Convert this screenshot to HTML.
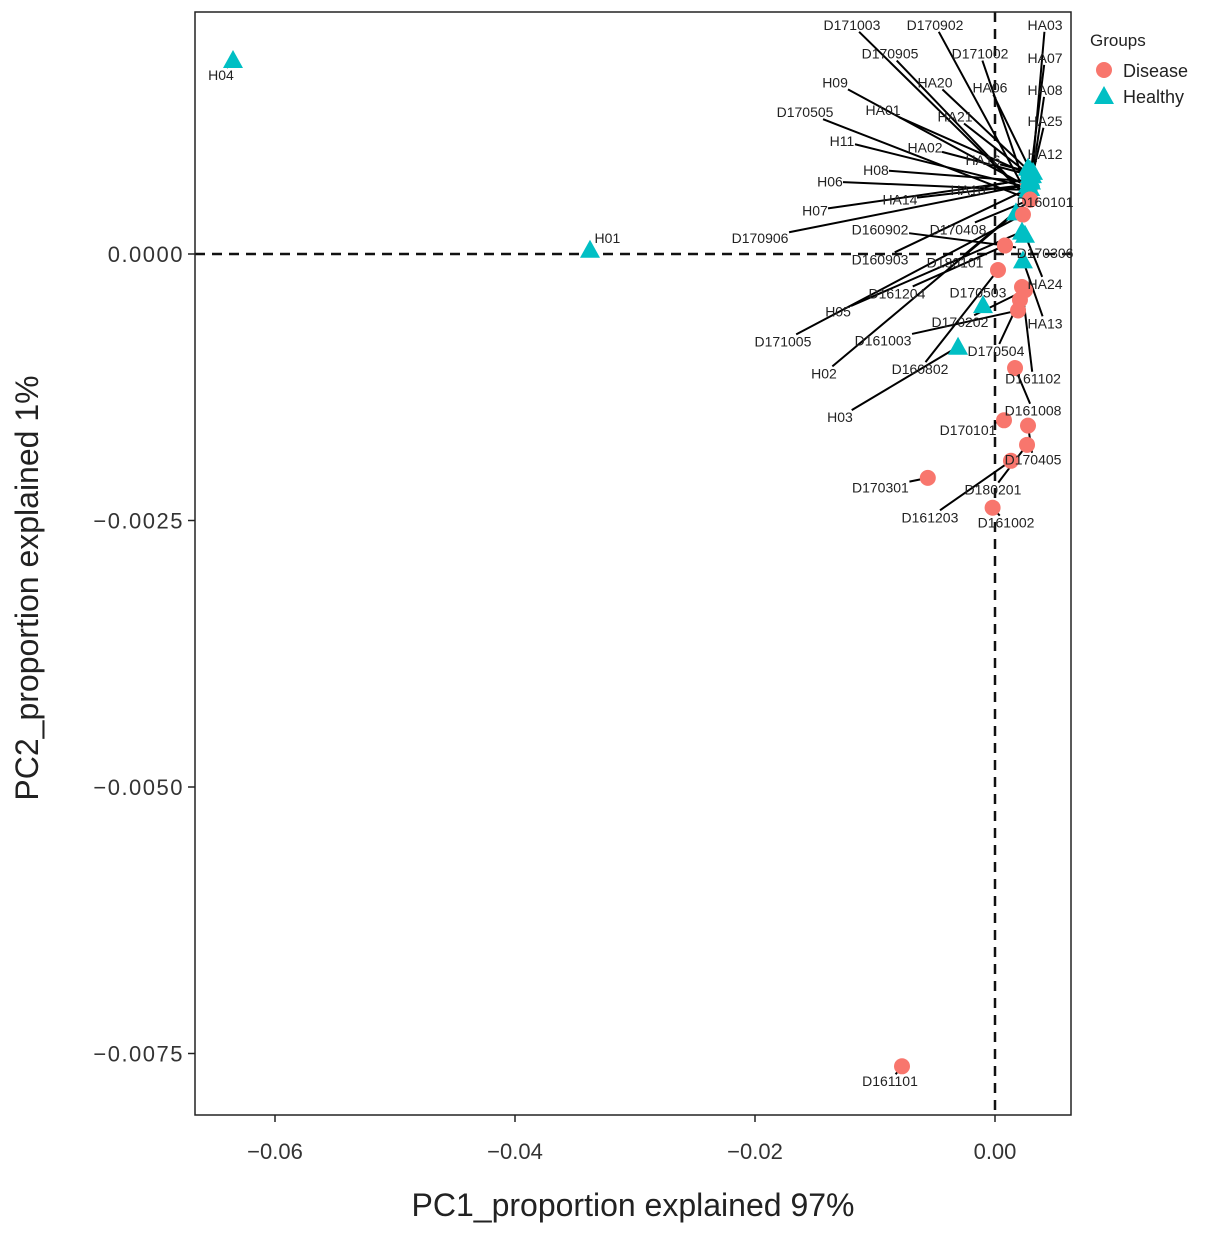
<!DOCTYPE html>
<html><head><meta charset="utf-8"><style>
body{margin:0;background:#fff;}
svg text{font-family:"Liberation Sans",Arial,sans-serif;}
</style></head><body>
<svg id="chart" width="1205" height="1235" viewBox="0 0 1205 1235" xmlns="http://www.w3.org/2000/svg">
<rect x="0" y="0" width="1205" height="1235" fill="#fff"/>
<g id="grid"></g>
<g id="segs"></g>
<g id="marks"></g>
<g id="labels"></g>
<rect x="195" y="12" width="876" height="1103" fill="none" stroke="#222" stroke-width="1.5"/>
<g id="axes"></g>
<text x="633" y="1216" font-size="32" text-anchor="middle" fill="#222">PC1_proportion explained 97%</text>
<text transform="translate(38,588) rotate(-90)" font-size="32" text-anchor="middle" fill="#222">PC2_proportion explained 1%</text>
<g>
<text x="1090" y="46" font-size="17" fill="#222">Groups</text>
<circle cx="1104" cy="70" r="8" fill="#F8766D"/>
<text x="1123" y="77" font-size="18" fill="#222">Disease</text>
<polygon points="1104,86 1114,104 1094,104" fill="#00BFC4"/>
<text x="1123" y="103" font-size="18" fill="#222">Healthy</text>
</g>
</svg>
<script>
const names=["H04","H01","D161101","D170301","D161002","D161203","D180201","D170405","D170101","D161008",
"HA03","HA07","HA08","HA25","HA12","D160101","D170306","HA24","HA13","D161102",
"D170504","D161003","H02","D160802","H03","D170503","D170202","D171005","H05","D161204",
"D180101","D160903","D160902","D170408","D170906","H07","HA14","H06","HA10","H08",
"HA02","HA16","H11","D170505","HA01","HA21","H09","HA20","HA06","D170905",
"D171002","D171003","D170902"];
const groups=["H","H","D","D","D","D","D","D","D","D",
"H","H","H","H","H","D","D","H","H","D",
"D","D","H","D","H","H","D","D","H","D",
"D","D","D","D","D","H","H","H","H","H",
"H","H","H","D","H","H","H","H","H","D",
"D","D","D"];
const pc1=[-0.0635,-0.03375,-0.00775,-0.0056,-0.0002,0.00133,0.00267,0.00275,0.00075,0.00167,
0.00308,0.00292,0.00317,0.003,0.00275,0.00292,0.00083,0.0025,0.00233,0.00225,
0.00208,0.00192,0.00175,0.00025,-0.00308,-0.001,0.0025,0.00233,0.00225,0.00083,
0.00292,0.00292,0.00083,0.00292,0.00275,0.00292,0.00275,0.00275,0.00292,0.00292,
0.00292,0.00292,0.00292,0.00292,0.00292,0.00292,0.00292,0.00292,0.00292,0.00292,
0.00292,0.00292,0.00292];
const pc2=[0.00182,0.00004,-0.00762,-0.0021,-0.00238,-0.00194,-0.00179,-0.00161,-0.00156,-0.00107,
0.00074,0.00071,0.00077,0.00068,0.00081,0.00051,0.00008,0.00018,-0.00006,-0.00031,
-0.00043,-0.00053,0.00039,-0.00015,-0.00087,-0.00048,-0.00034,0.00037,0.00021,0.00008,
0.00051,0.00062,0.00008,0.00051,0.00065,0.0007,0.00065,0.0006,0.00071,0.00068,
0.00074,0.00077,0.00062,0.00051,0.00074,0.00074,0.00062,0.00077,0.00079,0.00051,
0.00051,0.00051,0.00051];
const labX=[-0.0645,-0.0323,-0.00875,-0.00955,0.00092,-0.00542,-0.00017,0.00317,-0.00225,0.00317,
0.00417,0.00417,0.00417,0.00417,0.00417,0.00417,0.00417,0.00417,0.00417,0.00317,
0.00008,-0.00933,-0.01425,-0.00625,-0.01292,-0.00142,-0.00292,-0.01767,-0.01308,-0.00817,
-0.00333,-0.00958,-0.00958,-0.00308,-0.01958,-0.015,-0.00792,-0.01375,-0.00225,-0.00992,
-0.00583,-0.001,-0.01275,-0.01583,-0.00933,-0.00333,-0.01333,-0.005,-0.00042,-0.00875,
-0.00125,-0.01192,-0.005];
const labY=[0.00168,0.00015,-0.00776,-0.00219,-0.00252,-0.00247,-0.00221,-0.00193,-0.00165,-0.00147,
0.00215,0.00184,0.00154,0.00125,0.00094,0.00049,0.00001,-0.00028,-0.00065,-0.00117,
-0.00091,-0.00081,-0.00112,-0.00108,-0.00153,-0.00036,-0.00064,-0.00082,-0.00054,-0.00037,
-0.00008,-0.00005,0.00023,0.00023,0.00015,0.00041,0.00051,0.00068,0.0006,0.00079,
0.001,0.00088,0.00106,0.00133,0.00135,0.00129,0.00161,0.00161,0.00156,0.00188,
0.00188,0.00215,0.00215];
const xTicks=[-0.06,-0.04,-0.02,0.00];
const xTickLabels=["\u22120.06","\u22120.04","\u22120.02","0.00"];
const yTicks=[0,-0.0025,-0.005,-0.0075];
const yTickLabels=["0.0000","\u22120.0025","\u22120.0050","\u22120.0075"];

const sx=v=>995+v*12000;
const sy=v=>254-v*106600;
const NS="http://www.w3.org/2000/svg";
function mk(tag,parent,attrs){const e=document.createElementNS(NS,tag);for(const k in attrs)e.setAttribute(k,attrs[k]);document.getElementById(parent).appendChild(e);return e;}

let l=mk('line','grid',{x1:195,x2:1071,y1:sy(0),y2:sy(0),stroke:'#111','stroke-width':2.5,'stroke-dasharray':'10,7'});


l=mk('line','grid',{x1:sx(0),x2:sx(0),y1:12,y2:1115,stroke:'#111','stroke-width':2.5,'stroke-dasharray':'10,7'});



xTicks.forEach((t,i)=>{
 const x=sx(t);
 const tk=mk('line','axes',{x1:x,x2:x,y1:1115,y2:1122,stroke:'#222','stroke-width':1.5});
 
 
 const tx=mk('text','axes',{x:x,y:1159,'font-size':22,'text-anchor':'middle',fill:'#333'});
 tx.textContent=xTickLabels[i];
 
 
});
yTicks.forEach((t,i)=>{
 const y=sy(t);
 const tk=mk('line','axes',{x1:188,x2:195,y1:y,y2:y,stroke:'#222','stroke-width':1.5});
 
 
 const tx=mk('text','axes',{x:184,y:y+8,'font-size':22,'text-anchor':'end',fill:'#333','letter-spacing':'1.5'});
 tx.textContent=yTickLabels[i];
 
 
});

names.forEach((n,i)=>{
 const px=sx(pc1[i]),py=sy(pc2[i]);
 const lx=sx(labX[i]),ly=sy(labY[i]);
 const w=n.length*8+2,h=14;
 const dx=px-lx,dy=py-ly;
 let t=Infinity;
 if(dx!==0)t=Math.min(t,(w/2)/Math.abs(dx));
 if(dy!==0)t=Math.min(t,(h/2)/Math.abs(dy));
 if(t<1){
  const dist=Math.hypot(dx,dy)*(1-t);
  if(dist>10){
   const s=mk('line','segs',{x1:lx+dx*t,y1:ly+dy*t,x2:px,y2:py,stroke:'#000','stroke-width':2});
   
   
  }
 }
 let m;
 if(groups[i]==="D"){
  m=mk('circle','marks',{cx:px,cy:py,r:8,fill:'#F8766D'});
 }else{
  m=mk('polygon','marks',{points:`${px},${py-10} ${px+10},${py+8} ${px-10},${py+8}`,fill:'#00BFC4'});
 }
 
 
 const tx=mk('text','labels',{x:lx,y:ly+5,'font-size':14,'text-anchor':'middle',fill:'#222'});
 tx.textContent=n;
 
 
});
</script>
</body></html>
